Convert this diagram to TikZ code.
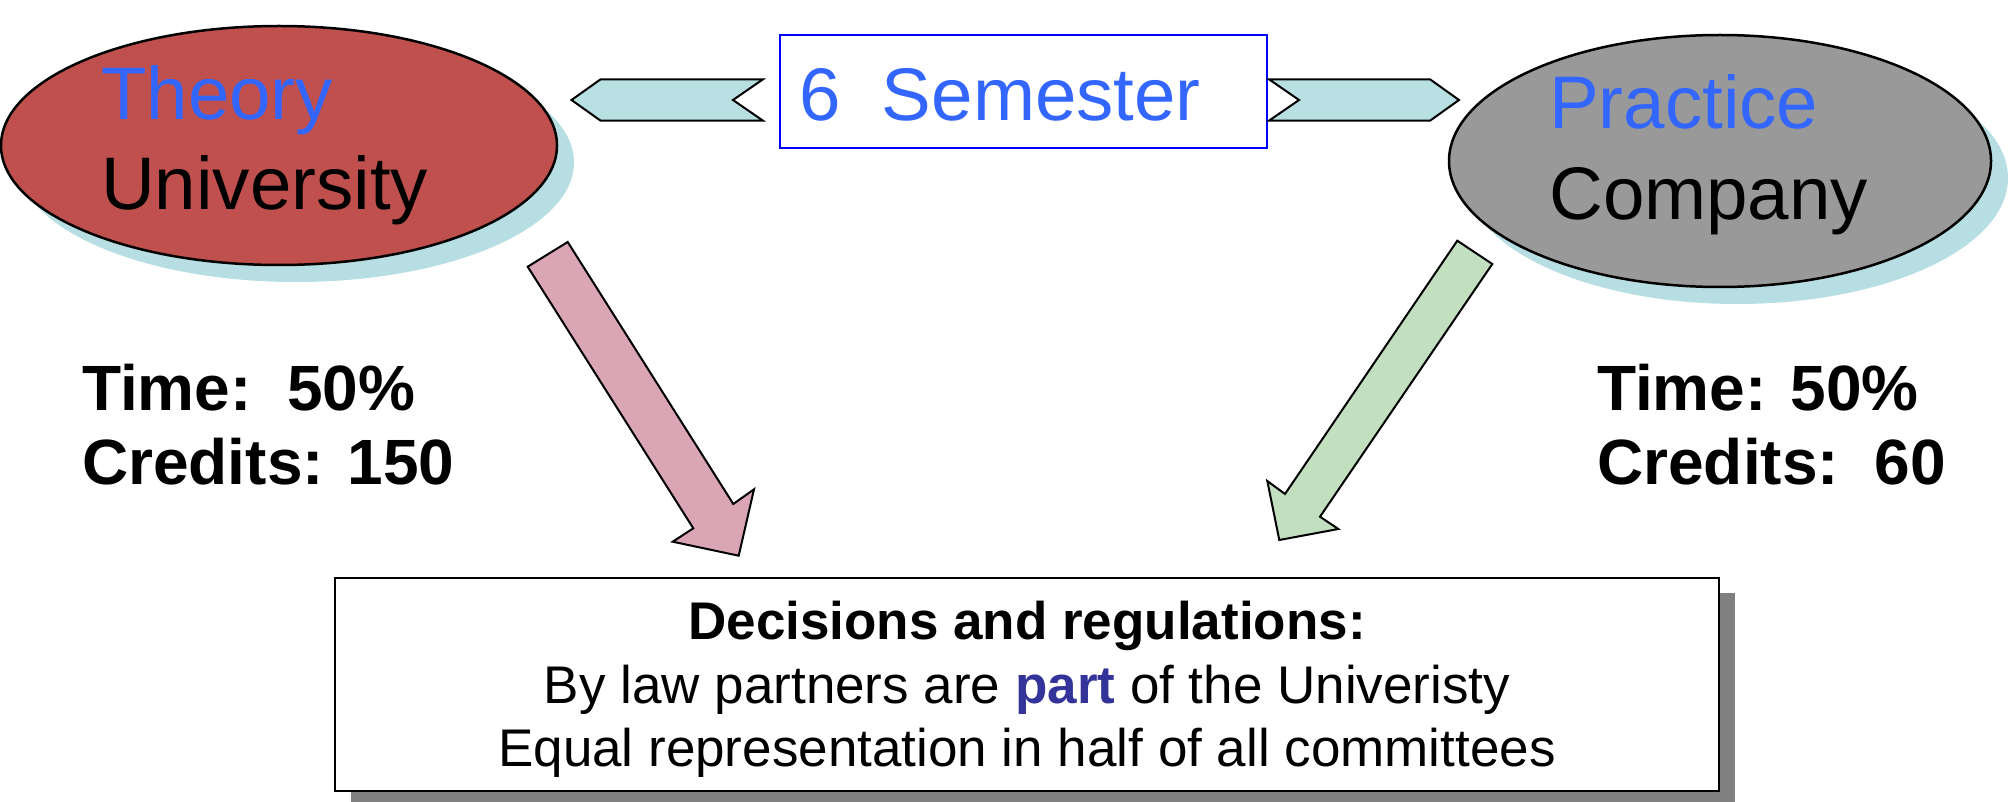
\documentclass[tikz,border=0pt]{standalone}
\usepackage{fontspec}
\setmainfont{Liberation Sans}
\usetikzlibrary{shapes.geometric}

\definecolor{uniRed}{RGB}{192,80,77}
\definecolor{firmGray}{RGB}{153,153,153}
\definecolor{haze}{RGB}{183,222,226}
\definecolor{titleBlue}{RGB}{51,102,255}
\definecolor{partBlue}{RGB}{51,51,153}
\definecolor{pinkArrow}{RGB}{218,165,180}
\definecolor{greenArrow}{RGB}{194,224,192}
\definecolor{chevronFill}{RGB}{184,223,226}
\definecolor{dropGray}{RGB}{128,128,128}

\begin{document}
\begin{tikzpicture}[x=1pt,y=-1pt,
  campus/.style={ellipse, draw=black, line width=2.5pt, inner sep=0pt},
  halo/.style={ellipse, fill=haze, inner sep=0pt},
  blockarrow/.style={draw=black, line width=2pt, line join=miter},
  bigword/.style={anchor=base west, inner sep=0pt, font=\fontsize{74.5}{90}\selectfont},
  factword/.style={anchor=base west, inner sep=0pt, font=\fontsize{64}{75}\selectfont\bfseries},
  ruleword/.style={anchor=base, inner sep=0pt, font=\fontsize{53}{63}\selectfont}
]
\useasboundingbox (0,0) rectangle (2015,802);

% soft halos behind the two ellipses
\node[halo, minimum width=556pt, minimum height=239pt] (uniHalo) at (296,162.5) {};
\node[halo, minimum width=542pt, minimum height=252pt] (firmHalo) at (1737,178) {};

% the two partners
\node[campus, fill=uniRed, minimum width=556pt, minimum height=239pt] (uni) at (279,145.5) {};
\node[campus, fill=firmGray, minimum width=542pt, minimum height=252pt] (firm) at (1720,161) {};

% semester box
\node[draw=blue, line width=2pt, fill=white, minimum width=487pt, minimum height=113pt, inner sep=0pt] (sem) at (1023.5,91.5) {};

% chevrons on either side of the semester box
\draw[blockarrow, fill=chevronFill] (571.5,100) -- (600.6,79.3) -- (763,79.3) -- (733,100)
  -- (763,120.7) -- (600.6,120.7) -- cycle;
\draw[blockarrow, fill=chevronFill] (1269,79.3) -- (1430,79.3) -- (1459,100) -- (1430,120.7)
  -- (1269,120.7) -- (1299,100) -- cycle;

% decisions box with its drop shadow
\fill[dropGray] (351,593) rectangle (1735,806);
\node[draw=black, line width=2.5pt, fill=white, minimum width=1384pt, minimum height=213pt, inner sep=0pt] (rules) at (1027,684.5) {};

% block arrows down to the decisions box
\draw[blockarrow, fill=pinkArrow] (527.7,266.7) -- (567.7,242) -- (733.3,504) -- (754,489.3)
  -- (738.7,555.7) -- (672.7,541.7) -- (693.3,528.3) -- cycle;
\draw[blockarrow, fill=greenArrow] (1457.3,240.7) -- (1492.3,264) -- (1320,516.7) -- (1338.3,529)
  -- (1279.3,540) -- (1267.3,481) -- (1285,494) -- cycle;

% texts
\node[bigword, text=titleBlue] (uniTitle) at (101,120) {Theory};
\node[bigword] (uniName) at (101,210) {University};
\node[bigword, text=titleBlue] (firmTitle) at (1549,129) {Practice};
\node[bigword] (firmName) at (1549,220) {Company};
\node[bigword, text=titleBlue] (semText) at (799,121) {6\ \ Semester};

\node[factword] (uniTime) at (82,410) {Time:\ \ 50\%};
\node[factword] (uniCredits) at (82,484) {Credits: 150};
\node[factword] (firmTime) at (1597,410) {Time: 50\%};
\node[factword] (firmCredits) at (1597,484) {Credits:\ \ 60};

\node[ruleword, font=\fontsize{53}{63}\selectfont\bfseries] (rulesHead) at (1027,639) {Decisions and regulations:};
\node[ruleword] (rulesLaw) at (1027,703) {By law partners are \textcolor{partBlue}{\bfseries part} of the Univeristy};
\node[ruleword] (rulesSeats) at (1027,766) {Equal representation in half of all committees};
\end{tikzpicture}
\end{document}
